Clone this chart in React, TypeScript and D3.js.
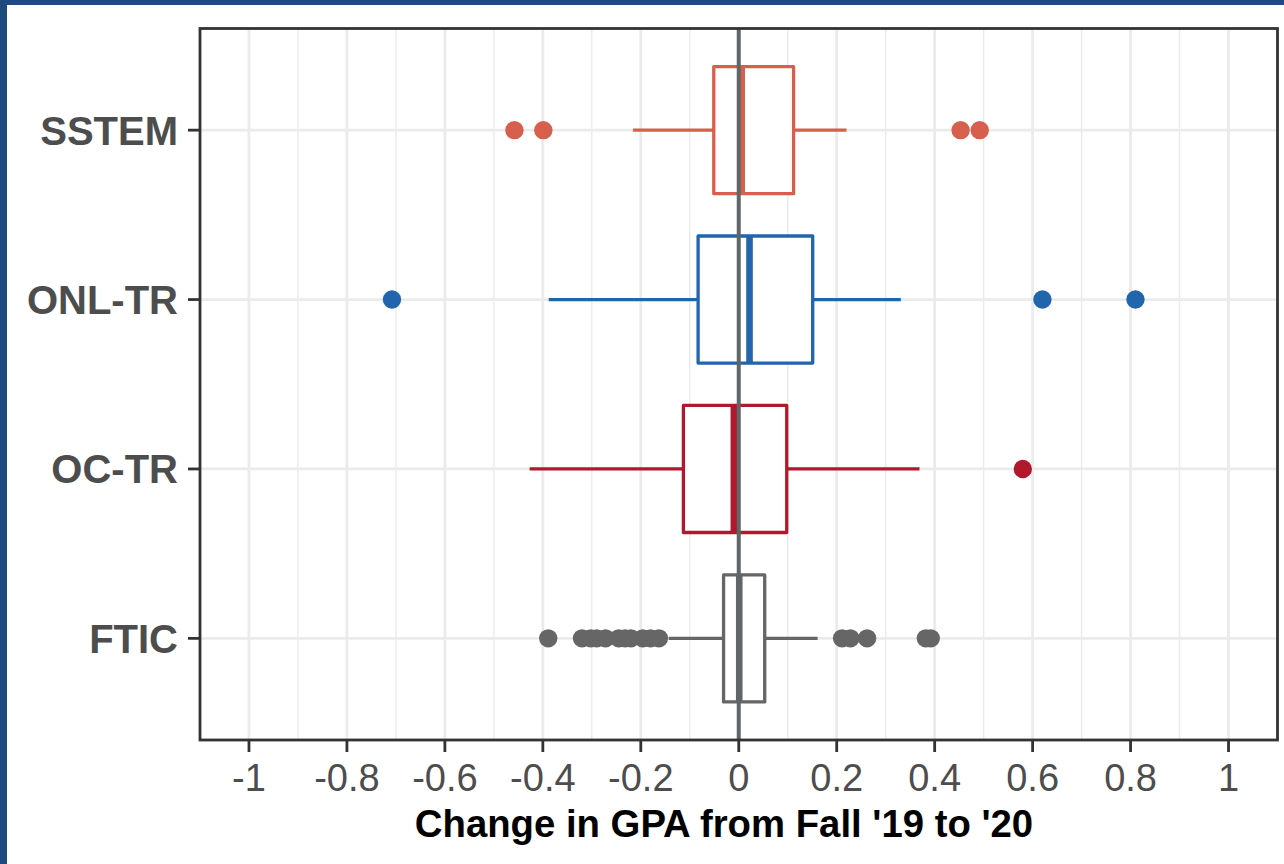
import React from "react";
import * as d3 from "d3";

const categories = ["SSTEM", "ONL-TR", "OC-TR", "FTIC"];
const colors = ["#d6604d", "#2166ac", "#b2182b", "#666666"];
const q1 = [-0.051, -0.083, -0.113, -0.031];
const medians = [0.006, 0.022, -0.01, 0.001];
const q3 = [0.112, 0.151, 0.098, 0.053];
const whiskerLow = [-0.216, -0.388, -0.427, -0.143];
const whiskerHigh = [0.22, 0.331, 0.369, 0.161];
const outliers = [
  [-0.458, -0.399, 0.453, 0.492],
  [-0.708, 0.62, 0.81],
  [0.58],
  [-0.389, -0.32, -0.302, -0.29, -0.272, -0.245, -0.232, -0.22, -0.196, -0.18, -0.163, 0.211, 0.228, 0.262, 0.382, 0.392],
];
const xTicks = [-1, -0.8, -0.6, -0.4, -0.2, 0, 0.2, 0.4, 0.6, 0.8, 1];
const xTickLabels = ["-1", "-0.8", "-0.6", "-0.4", "-0.2", "0", "0.2", "0.4", "0.6", "0.8", "1"];
const xMinor = [-1.1, -0.9, -0.7, -0.5, -0.3, -0.1, 0.1, 0.3, 0.5, 0.7, 0.9, 1.1];
const xTitle = "Change in GPA from Fall '19 to '20";

const W = 1284;
const H = 864;
const panel = { left: 200, right: 1277.5, top: 28.5, bottom: 740 };

export default function App() {
  const x = d3.scaleLinear().domain([-1.1, 1.1]).range([panel.left, panel.right]);
  const y = d3
    .scalePoint<string>()
    .domain(categories)
    .range([panel.top, panel.bottom])
    .padding(0.6);
  const step = y.step();
  const boxH = step * 0.75;
  const font = "'Liberation Sans', Arial, Helvetica, sans-serif";

  return (
    <div style={{ position: "fixed", left: 0, top: 0 }}>
      <svg width={W} height={H} style={{ display: "block" }}>
        <rect x={0} y={0} width={W} height={H} fill="#ffffff" />
        <rect x={0} y={0} width={W} height={5} fill="#1f4a7e" />
        <rect x={0} y={0} width={7} height={H} fill="#1f4a7e" />
        {/* minor grid */}
        {xMinor.map((v) => (
          <line key={"mn" + v} x1={x(v)} x2={x(v)} y1={panel.top} y2={panel.bottom} stroke="#ebebeb" strokeWidth={1.4} />
        ))}
        {/* major grid */}
        {xTicks.map((v) => (
          <line key={"mj" + v} x1={x(v)} x2={x(v)} y1={panel.top} y2={panel.bottom} stroke="#ebebeb" strokeWidth={2.8} />
        ))}
        {categories.map((c) => (
          <line key={"hg" + c} x1={panel.left} x2={panel.right} y1={y(c)} y2={y(c)} stroke="#ebebeb" strokeWidth={2.8} />
        ))}
        {/* boxes */}
        {categories.map((c, i) => {
          const cy = y(c) as number;
          return (
            <g key={"box" + c} stroke={colors[i]} strokeWidth={3.3} fill="none">
              <line x1={x(whiskerLow[i])} x2={x(q1[i])} y1={cy} y2={cy} />
              <line x1={x(q3[i])} x2={x(whiskerHigh[i])} y1={cy} y2={cy} />
              <rect
                x={x(q1[i])}
                y={cy - boxH / 2}
                width={x(q3[i]) - x(q1[i])}
                height={boxH}
                fill="#ffffff"
                strokeLinejoin="round"
              />
              <line x1={x(medians[i])} x2={x(medians[i])} y1={cy - boxH / 2} y2={cy + boxH / 2} strokeWidth={6.6} />
            </g>
          );
        })}
        {/* zero line */}
        <line x1={x(0)} x2={x(0)} y1={panel.top} y2={panel.bottom} stroke="#5e6667" strokeWidth={4} />
        {/* outliers */}
        {categories.map((c, i) =>
          outliers[i].map((v, j) => (
            <circle key={"o" + c + j} cx={x(v)} cy={y(c)} r={9.2} fill={colors[i]} />
          ))
        )}
        {/* panel border */}
        <rect
          x={panel.left}
          y={panel.top}
          width={panel.right - panel.left}
          height={panel.bottom - panel.top}
          fill="none"
          stroke="#333333"
          strokeWidth={2.8}
        />
        {/* y axis */}
        {categories.map((c) => (
          <g key={"yl" + c}>
            <line x1={panel.left - 12} x2={panel.left} y1={y(c)} y2={y(c)} stroke="#333333" strokeWidth={2.8} />
            <text
              x={panel.left - 22}
              y={(y(c) as number) + 14.5}
              textAnchor="end"
              fontFamily={font}
              fontWeight="bold"
              fontSize={40}
              fill="#4d4d4d"
            >
              {c}
            </text>
          </g>
        ))}
        {/* x axis */}
        {xTicks.map((v, i) => (
          <g key={"xt" + v}>
            <line x1={x(v)} x2={x(v)} y1={panel.bottom} y2={panel.bottom + 12} stroke="#333333" strokeWidth={2.8} />
            <text x={x(v)} y={791} textAnchor="middle" fontFamily={font} fontSize={38} fill="#4d4d4d">
              {xTickLabels[i]}
            </text>
          </g>
        ))}
        <text
          x={724}
          y={837}
          textAnchor="middle"
          fontFamily={font}
          fontWeight="bold"
          fontSize={38.3}
          fill="#000000"
        >
          {xTitle}
        </text>
      </svg>
    </div>
  );
}
